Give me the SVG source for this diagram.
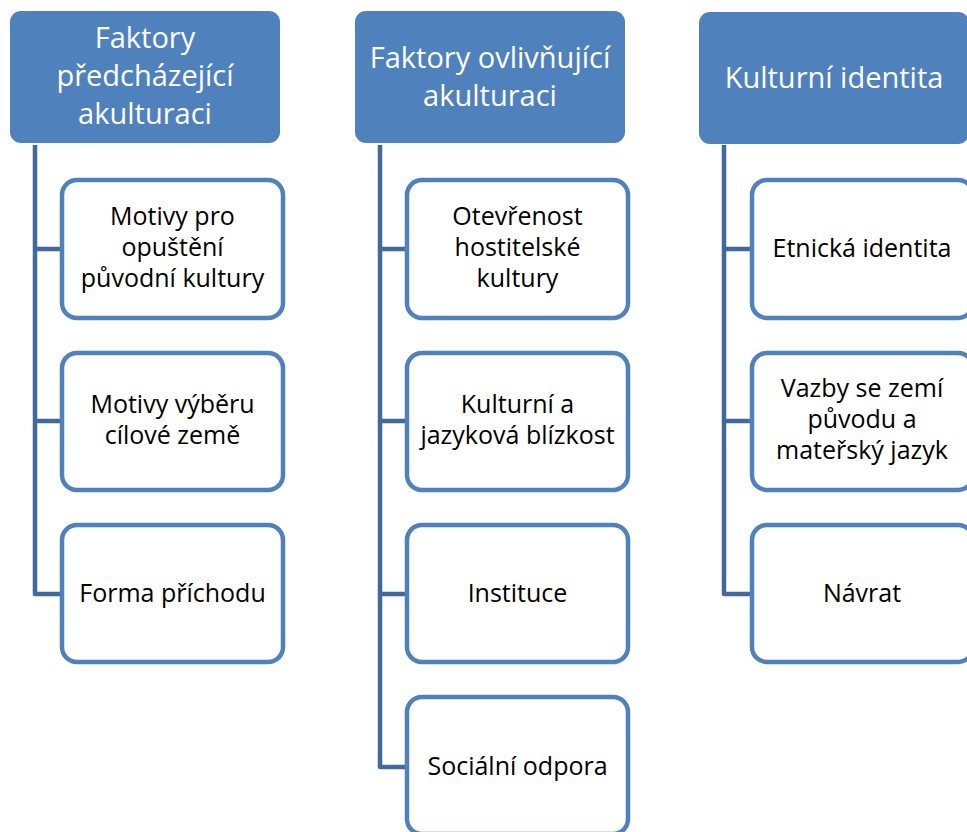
<svg xmlns="http://www.w3.org/2000/svg" width="967" height="832" viewBox="0 0 967 832">
<style>
.hdr{fill:#4F81BD;}
.ht{fill:#FFFFFF;font-family:"Open Sans","Liberation Sans",sans-serif;font-size:29px;text-anchor:middle;}
.box{fill:#FFFFFF;stroke:#4F81BD;stroke-width:4.5;}
.bt{fill:#000000;font-family:"Open Sans","Liberation Sans",sans-serif;font-size:25px;text-anchor:middle;}
.con{fill:none;stroke:#41699B;stroke-width:4.5;stroke-linejoin:round;}
</style>
<rect width="967" height="832" fill="#FFFFFF"/>
<g id="connectors">
<path class="con" d="M35 145 V594 H62 M35 249 H62 M35 421 H62"/>
<path class="con" d="M380 145 V767 H407 M380 249 H407 M380 421 H407 M380 594 H407"/>
<path class="con" d="M724 145 V594 H752 M724 249 H752 M724 421 H752"/>
</g>
<g id="h1"><rect class="hdr" x="10" y="11" width="270" height="132" rx="11"/>
<text class="ht" x="145" y="48">Faktory</text><text class="ht" x="145" y="86">předcházející</text><text class="ht" x="145" y="124">akulturaci</text></g>
<g id="h2"><rect class="hdr" x="355" y="11" width="270" height="132" rx="11"/>
<text class="ht" x="490" y="68">Faktory ovlivňující</text><text class="ht" x="490" y="106">akulturaci</text></g>
<g id="h3"><rect class="hdr" x="699" y="12" width="270" height="132" rx="11"/>
<text class="ht" x="834" y="88">Kulturní identita</text></g>

<g id="c1a"><rect class="box" x="62" y="180" width="221" height="138" rx="15"/>
<text class="bt" x="172.5" y="225">Motivy pro</text><text class="bt" x="172.5" y="256">opuštění</text><text class="bt" x="172.5" y="287">původní kultury</text></g>
<g id="c1b"><rect class="box" x="62" y="353" width="221" height="137" rx="15"/>
<text class="bt" x="172.5" y="413">Motivy výběru</text><text class="bt" x="172.5" y="444">cílové země</text></g>
<g id="c1c"><rect class="box" x="62" y="525" width="221" height="137" rx="15"/>
<text class="bt" x="172.5" y="602">Forma příchodu</text></g>

<g id="c2a"><rect class="box" x="407" y="180" width="221" height="138" rx="15"/>
<text class="bt" x="517.5" y="225">Otevřenost</text><text class="bt" x="517.5" y="256">hostitelské</text><text class="bt" x="517.5" y="287">kultury</text></g>
<g id="c2b"><rect class="box" x="407" y="353" width="221" height="137" rx="15"/>
<text class="bt" x="517.5" y="413">Kulturní a</text><text class="bt" x="517.5" y="444">jazyková blízkost</text></g>
<g id="c2c"><rect class="box" x="407" y="525" width="221" height="137" rx="15"/>
<text class="bt" x="517.5" y="602">Instituce</text></g>
<g id="c2d"><rect class="box" x="407" y="697" width="221" height="137" rx="15"/>
<text class="bt" x="517.5" y="775">Sociální odpora</text></g>

<g id="c3a"><rect class="box" x="752" y="180" width="221" height="138" rx="15"/>
<text class="bt" x="862" y="257">Etnická identita</text></g>
<g id="c3b"><rect class="box" x="752" y="353" width="221" height="137" rx="15"/>
<text class="bt" x="862" y="397">Vazby se zemí</text><text class="bt" x="862" y="428">původu a</text><text class="bt" x="862" y="459">mateřský jazyk</text></g>
<g id="c3c"><rect class="box" x="752" y="525" width="221" height="137" rx="15"/>
<text class="bt" x="862" y="602">Návrat</text></g>
</svg>
